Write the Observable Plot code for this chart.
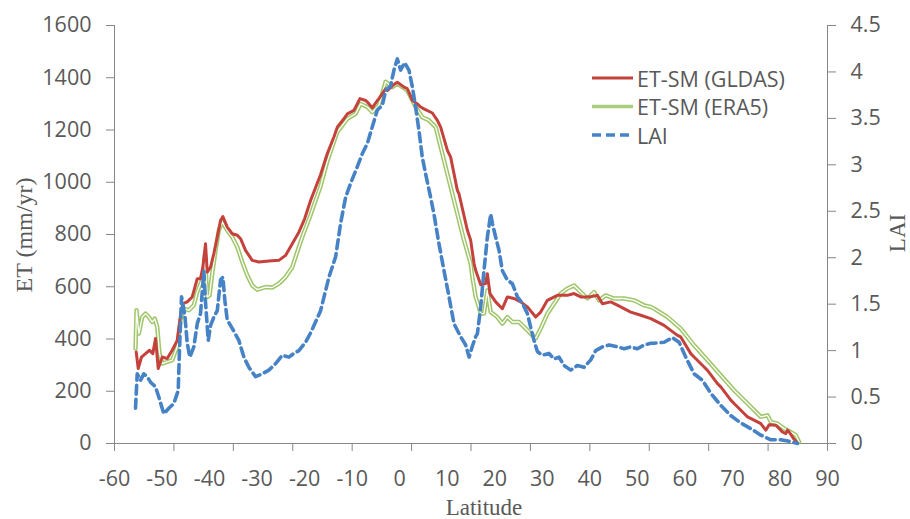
<!DOCTYPE html>
<html>
<head>
<meta charset="utf-8">
<script src="https://cdn.jsdelivr.net/npm/d3@7"></script>
<script src="https://cdn.jsdelivr.net/npm/@observablehq/plot@0.6"></script>
<style>
  html, body { margin: 0; padding: 0; background: #ffffff; }
  #chart { width: 910px; height: 519px; }
</style>
</head>
<body>
<div id="chart"></div>
<script>
// ---- Data ----
const gldasLat = [-55.43,-55.01,-54.32,-53.47,-52.63,-51.94,-51.37,-50.80,-49.96,-48.91,-47.86,-46.80,-46.11,-45.62,-44.70,-43.65,-42.59,-41.90,-41.41,-40.85,-40.49,-39.79,-39.10,-38.38,-37.69,-37.20,-36.28,-35.23,-34.17,-33.48,-32.43,-31.02,-29.63,-27.52,-25.42,-24.01,-22.60,-21.21,-20.0,-18.75,-16.64,-15.23,-13.84,-13.13,-11.74,-11.02,-9.63,-8.37,-7.17,-6.81,-5.76,-4.71,-4.37,-2.96,-2.6,-1.5,-0.5,0.9,1.6,2.66,3.71,4.41,5.1,6.87,7.92,8.62,10.03,10.72,12.13,12.47,14.24,14.93,15.64,15.98,17.04,18.09,18.44,18.99,20.19,21.60,22.65,24.05,25.45,26.86,28.61,29.66,31.07,33.17,35.28,36.68,38.08,39.84,41.59,42.65,44.40,46.50,48.61,50.72,52.82,54.92,55.62,58.44,59.13,61.24,61.93,64.04,64.75,66.86,67.55,69.66,70.35,72.46,73.17,75.27,75.97,77.02,77.72,79.13,80.18,80.53,81.23,81.58,81.93,82.98,83.69];
const gldasET  = [350,287,331,344,357,344,402,287,331,325,357,395,491,535,542,561,631,631,675,765,656,675,727,790,854,869,828,803,797,784,739,701,695,699,701,720,765,809,860,930,1030,1110,1173,1211,1243,1262,1275,1320,1313,1307,1285,1313,1320,1358,1351,1370,1383,1364,1358,1313,1300,1288,1281,1265,1237,1211,1122,1096,969,956,816,778,689,663,608,612,650,574,542,516,561,555,542,523,484,503,548,567,567,574,561,561,567,535,542,523,503,491,478,459,452,414,408,344,331,293,280,229,217,166,153,115,102,83,76,51,72,70,51,44,38,51,44,16,2];

const era5Lat = [-55.58,-55.37,-54.88,-54.17,-53.47,-52.78,-52.06,-51.52,-51.01,-50.53,-49.96,-48.91,-47.86,-46.80,-46.11,-45.41,-44.36,-43.31,-42.59,-41.90,-41.41,-40.99,-40.49,-40.00,-39.44,-38.74,-38.05,-37.33,-36.28,-35.23,-34.17,-33.12,-32.07,-31.02,-29.96,-28.22,-26.81,-25.42,-24.01,-22.60,-21.21,-20.3,-18.75,-17.7,-16.64,-15.23,-13.13,-11.02,-9.27,-8.22,-6.81,-5.76,-4.37,-2.96,-1.56,-0.5,1.6,3.36,4.76,6.16,7.57,9.32,11.42,13.53,14.93,15.29,15.98,16.69,17.04,17.73,18.44,19.14,20.54,21.60,22.65,23.70,25.10,26.51,27.91,28.61,29.66,31.07,32.47,33.87,35.28,36.68,38.08,39.49,40.89,41.94,43.35,45.09,47.20,49.31,51.41,52.82,53.52,56.34,59.13,61.93,64.75,67.55,70.35,73.17,75.97,77.37,78.07,79.48,80.88,82.29,83.34,84.04];
const era5ET  = [363,510,421,484,497,484,465,478,446,344,306,312,319,370,472,516,510,529,580,612,631,720,561,567,650,739,816,848,816,790,752,695,644,605,589,599,597,612,637,675,752,800,875,930,985,1080,1192,1243,1262,1300,1288,1268,1294,1385,1364,1377,1351,1288,1249,1237,1211,1084,931,778,689,637,561,520,497,497,586,503,484,459,484,465,465,440,414,402,440,497,535,574,593,605,580,555,580,548,567,555,555,548,529,523,516,484,440,376,319,261,204,153,102,108,83,76,57,44,32,6];

const laiLat = [-55.58,-55.22,-54.53,-53.83,-53.12,-52.42,-51.37,-50.68,-49.62,-48.57,-47.52,-46.60,-46.33,-45.90,-45.20,-44.70,-44.15,-43.31,-42.59,-41.90,-41.20,-40.85,-40.28,-39.79,-39.10,-38.38,-37.69,-37.20,-36.78,-36.28,-35.23,-33.84,-32.78,-31.73,-30.32,-28.91,-27.52,-26.11,-24.70,-23.31,-22.26,-21.21,-19.80,-18.75,-16.64,-14.89,-13.48,-12.43,-11.38,-10.33,-8.92,-7.87,-6.81,-5.76,-4.71,-3.66,-2.96,-1.91,-1.21,-0.5,0.19,1.04,1.94,2.66,3.36,4.05,4.76,5.46,6.51,7.21,8.26,9.32,10.37,11.42,12.83,13.88,14.6,15.3,15.98,16.34,17.04,17.73,18.44,19.14,19.50,20.19,20.89,21.60,22.65,23.70,24.75,25.80,26.86,27.56,28.26,28.96,30.02,31.41,32.47,33.52,34.57,35.98,37.38,38.78,40.19,41.24,42.65,44.05,45.81,47.20,48.61,50.02,51.41,52.82,53.52,55.62,57.38,58.78,60.18,61.93,63.70,65.45,67.55,69.66,71.77,73.87,75.97,78.08,80.18,82.29,83.69];
const laiVal = [0.38,0.75,0.68,0.75,0.72,0.66,0.61,0.50,0.32,0.38,0.43,0.57,1.00,1.58,1.38,1.08,0.93,1.04,1.29,1.40,1.85,1.52,1.11,1.27,1.36,1.43,1.76,1.79,1.54,1.33,1.24,1.11,0.93,0.82,0.72,0.75,0.79,0.86,0.95,0.93,0.97,1.00,1.09,1.19,1.43,1.79,2.01,2.37,2.65,2.80,2.98,3.12,3.23,3.41,3.59,3.64,3.80,3.85,4.02,4.14,4.02,4.10,4.02,3.84,3.62,3.37,3.08,2.90,2.65,2.47,2.15,1.86,1.58,1.29,1.15,1.06,0.93,1.05,1.15,1.18,1.47,1.86,2.22,2.47,2.37,2.22,2.08,1.86,1.76,1.72,1.58,1.51,1.40,1.25,1.11,0.99,0.95,0.97,0.91,0.93,0.84,0.79,0.84,0.82,0.90,1.00,1.04,1.06,1.04,1.02,1.04,1.02,1.06,1.08,1.08,1.09,1.14,1.09,0.93,0.75,0.68,0.54,0.41,0.30,0.22,0.16,0.09,0.04,0.04,0.02,0.00];

const etTicks = [0, 200, 400, 600, 800, 1000, 1200, 1400, 1600];
const laiTicks = [0, 0.5, 1, 1.5, 2, 2.5, 3, 3.5, 4, 4.5];
const latLabels = [-60, -50, -40, -30, -20, -10, 0, 10, 20, 30, 40, 50, 60, 70, 80, 90];
const latTickMarks = [-60, -47.5, -35, -22.5, -10, 2.5, 15, 27.5, 40, 52.5, 65, 77.5, 90];
const seriesNames = ["ET-SM (GLDAS)", "ET-SM (ERA5)", "LAI"];

// ---- Build tables ----
const gldas = gldasLat.map((lat, i) => ({lat, et: gldasET[i]}));
const era5 = era5Lat.map((lat, i) => ({lat, et: era5ET[i]}));
const lai = laiLat.map((lat, i) => ({lat, lai: laiVal[i]}));

const k = 1600 / 4.5; // LAI -> ET pixel mapping (secondary axis)
const RED = "#C4413C", GREEN = "#A0C66C", BLUE = "#4682C6";
const AXIS = "#868686", TEXT = "#595959";

const chart = Plot.plot({
  width: 910,
  height: 519,
  marginLeft: 114,
  marginRight: 83,
  marginTop: 25,
  marginBottom: 76,
  x: {domain: [-60, 90]},
  y: {domain: [0, 1600]},
  style: {fontFamily: "'Open Sans', sans-serif", fontSize: "21.5px", color: TEXT, background: "white", overflow: "visible"},
  marks: [
    Plot.axisY({anchor: "left", ticks: etTicks, tickSize: 8, tickPadding: 15, stroke: AXIS, fill: TEXT, label: null, tickFormat: d => String(d)}),
    Plot.axisY({anchor: "right", ticks: laiTicks.map(v => v * k), tickSize: 8, tickPadding: 15, stroke: AXIS, fill: TEXT, label: null,
      tickFormat: d => String(Math.round(d / k * 10) / 10)}),
    Plot.axisX({ticks: latLabels, tickSize: 0, tickPadding: 27, fill: TEXT, label: null, tickFormat: d => String(d)}),
    Plot.axisX({ticks: latTickMarks, tickSize: 8, stroke: AXIS, label: null, tickFormat: () => ""}),
    Plot.ruleX([-60, 90], {stroke: AXIS, strokeWidth: 1}),
    Plot.ruleY([0], {stroke: AXIS, strokeWidth: 1}),
    Plot.line(era5, {x: "lat", y: "et", stroke: GREEN, strokeWidth: 4.4, strokeLinejoin: "round"}),
    Plot.line(era5, {x: "lat", y: "et", stroke: "white", strokeWidth: 1.3, strokeLinejoin: "round"}),
    Plot.line(gldas, {x: "lat", y: "et", stroke: RED, strokeWidth: 3, strokeLinejoin: "round"}),
    Plot.line(lai, {x: "lat", y: d => d.lai * k, stroke: BLUE, strokeWidth: 3.6, strokeDasharray: "9,5", strokeLinejoin: "round"})
  ]
});

document.getElementById("chart").appendChild(chart);

const svg = d3.select(chart);
// Axis titles
svg.append("text")
  .attr("transform", "translate(32,235) rotate(-90)")
  .attr("text-anchor", "middle")
  .attr("font-family", "'Liberation Serif', serif")
  .attr("font-size", 24)
  .attr("fill", TEXT)
  .text("ET (mm/yr)");
svg.append("text")
  .attr("transform", "translate(905,233) rotate(-90)")
  .attr("text-anchor", "middle")
  .attr("font-family", "'Liberation Serif', serif")
  .attr("font-size", 23)
  .attr("fill", TEXT)
  .text("LAI");
svg.append("text")
  .attr("x", 484)
  .attr("y", 515)
  .attr("text-anchor", "middle")
  .attr("font-family", "'Liberation Serif', serif")
  .attr("font-size", 23)
  .attr("fill", TEXT)
  .text("Latitude");

// Legend
const legendStyles = [
  {stroke: RED, width: 3, dash: null},
  {stroke: "#A9CF7E", width: 3.5, dash: null},
  {stroke: BLUE, width: 3.6, dash: "9,5"}
];
const lg = svg.append("g").attr("text-anchor", "start");
seriesNames.forEach((name, i) => {
  const y = 78 + i * 28.5;
  const s = legendStyles[i];
  const ln = lg.append("line")
    .attr("x1", 592).attr("x2", 633).attr("y1", y).attr("y2", y)
    .attr("stroke", s.stroke).attr("stroke-width", s.width);
  if (s.dash) ln.attr("stroke-dasharray", s.dash);
  lg.append("text")
    .attr("x", 637).attr("y", y)
    .attr("text-anchor", "start")
    .attr("dominant-baseline", "central")
    .attr("font-family", "'Open Sans', sans-serif")
    .attr("font-size", 21.5)
    .attr("fill", TEXT)
    .text(name);
});
</script>
</body>
</html>
